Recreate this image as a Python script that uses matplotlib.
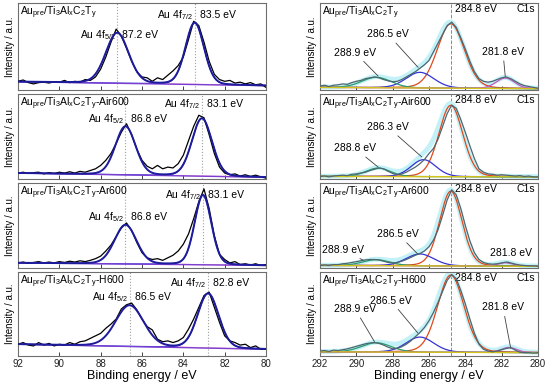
import numpy as np
import matplotlib.pyplot as plt
from matplotlib.ticker import MultipleLocator

plt.rcParams['font.family'] = ['Liberation Sans', 'DejaVu Sans']
plt.rcParams['mathtext.fontset'] = 'custom'
plt.rcParams['mathtext.rm'] = 'Liberation Sans'
plt.rcParams['mathtext.it'] = 'Liberation Sans:italic'

# ---- Au 4f spectra (92 -> 80 eV, 0.25 eV steps), panel units 0-100 ----
au_energy = np.linspace(92, 80, 49)
au_raw_ref = [10, 11.5, 8.5, 7, 8.5, 9, 8, 9.5, 9, 11, 8.5, 10, 9, 12, 11, 15,
              24, 38, 55, 70, 62, 48, 33, 21, 15, 14, 10, 14, 12, 17, 22, 28,
              38, 58, 79, 74, 55, 33, 18, 12, 10, 11, 8, 9, 7, 8.5, 6, 7, 3]
au_raw_air = [7, 8, 6.5, 7.5, 8, 6, 7.5, 6.5, 8, 7, 8.5, 7, 9, 8, 10, 12,
              16, 22, 30, 42, 55, 65, 52, 35, 22, 15, 12, 16, 12, 14, 13, 18,
              28, 45, 62, 75, 72, 52, 30, 14, 7, 5, 6, 3.5, 5, 3, 4.5, 2.5, 1]
au_raw_ar = [6, 7, 5.5, 6.5, 7.5, 6, 7, 6, 7.5, 6.5, 8, 7, 8.5, 7.5, 9, 11,
             14, 20, 27, 37, 47, 53, 44, 30, 18, 12, 10, 11, 9, 12, 15, 20,
             28, 40, 58, 78, 93, 70, 38, 16, 10, 6, 7.5, 4, 5, 3.5, 5, 3, 4]
au_raw_h = [14, 16, 13, 12, 16, 13, 15, 12, 14, 13, 16, 14, 17, 18, 21, 24,
            27, 33, 38, 44, 56, 61, 63, 55, 44, 35, 31, 20, 17, 18, 16, 18,
            22, 32, 44, 58, 72, 76, 58, 40, 24, 18, 16, 13, 14, 10, 12, 8, 8]

# fitted components: (centre eV, height, FWHM)
au_peaks_ref = [(87.2, 58, 1.30), (83.45, 71, 1.05)]
au_peaks_air = [(86.8, 57, 1.15), (83.1, 68, 1.15)]
au_peaks_ar = [(86.8, 46, 1.25), (83.05, 82, 0.95)]
au_peaks_h = [(86.6, 49, 1.60), (82.8, 65, 1.20)]
# peak positions as printed on the chart (4f5/2, 4f7/2)
au_peak_labels_ref = ['87.2 eV', '83.5 eV']
au_peak_labels_air = ['86.8 eV', '83.1 eV']
au_peak_labels_ar = ['86.8 eV', '83.1 eV']
au_peak_labels_h = ['86.5 eV', '82.8 eV']
# linear background (value at 92 eV, value at 80 eV)
au_bg_ref = (9.5, 5)
au_bg_air = (7, 2)
au_bg_ar = (6, 3)
au_bg_h = (14, 8)

# ---- C 1s spectra (292 -> 280 eV, 0.25 eV steps) ----
c_energy = np.linspace(292, 280, 49)
c_raw_ref = [4.5, 5.5, 4, 5.5, 6, 7, 6.5, 8.5, 10, 11, 13, 14, 15, 14, 12, 10.5,
             9.5, 10, 12, 15, 18, 21, 25, 29, 34, 44, 54, 64, 74, 78, 72, 60,
             47, 33, 21, 13, 10, 9, 10, 12, 14, 15, 13, 10, 7, 5, 4, 3, 2]
c_raw_air = [3, 3.5, 2.5, 3.5, 4, 4.5, 4, 5.5, 6, 7, 8, 10, 11.5, 13, 12, 9,
             6.5, 5, 6, 8, 11, 14, 18, 23, 30, 36, 47, 62, 77, 87, 83, 70,
             55, 39, 24, 12, 8, 6, 5.5, 4.5, 5, 4.5, 4, 3.5, 4, 3, 3.5, 2.5, 2.5]
c_raw_ar = [3, 3.5, 3, 4, 4, 5, 5.5, 6.5, 7.5, 8.5, 9.5, 10, 10, 9.5, 8, 6.5,
            6, 6.5, 8, 10, 12.5, 15, 17, 20, 25, 33, 45, 62, 80, 92, 86, 70,
            50, 32, 18, 10, 6.5, 5, 4.5, 5, 6, 7, 6, 4.5, 3.5, 3, 2.5, 2.5, 2]
c_raw_h = [6, 6.5, 5.5, 7, 6.5, 7.5, 8.5, 10, 11.5, 13, 14.5, 15.5, 16, 15, 13, 10.5,
           8.5, 9, 11, 14, 18, 23, 28, 34, 42, 52, 64, 77, 90, 97, 92, 78,
           62, 44, 27, 14, 8, 6, 5, 6, 7.5, 9, 10, 7, 4.5, 4, 4, 3.5, 4]

# components: main C-C, C-O (blue), O-C=O (green), carbide (pink)
c_peaks_ref = [(284.8, 74, 1.75), (286.5, 18, 1.8), (288.9, 12, 1.9), (281.8, 12, 1.2)]
c_peaks_air = [(284.8, 84, 1.55), (286.3, 20, 1.6), (288.8, 10, 1.6), None]
c_peaks_ar = [(284.8, 88, 1.45), (286.5, 14, 1.8), (288.9, 7, 1.8), (281.8, 4, 1.0)]
c_peaks_h = [(284.8, 92, 1.70), (286.5, 18, 1.8), (288.9, 11, 1.9), (281.6, 6, 1.0)]
c_bg_ref = (3, 1.5)
c_bg_air = (3, 2.5)
c_bg_ar = (3, 2)
c_bg_h = (5, 4)

sample_suffix = ['', '-Air600', '-Ar600', '-H600']

# label placement: (text, target eV, target val, text eV, text val)
c_labels_ref = [('288.9 eV', 288.8, 16, 290.07, 43), ('286.5 eV', 286.6, 26, 288.26, 64),
                ('281.8 eV', 281.8, 15, 281.93, 44)]
c_labels_air = [('288.8 eV', 288.8, 14, 290.07, 36), ('286.3 eV', 286.4, 26, 288.26, 61)]
c_labels_ar = [('288.9 eV', 289.6, 9, 290.75, 21), ('286.5 eV', 286.6, 16, 287.7, 40),
               ('281.8 eV', 281.65, 6, 281.5, 18)]
c_labels_h = [('288.9 eV', 289.0, 17, 290.07, 56), ('286.5 eV', 286.6, 27, 288.1, 66),
              ('281.8 eV', 281.5, 9, 281.93, 58)]

# y (axes fraction) of Au 4f labels: (5/2, 7/2)
au_label_y = [(0.60, 0.83), (0.665, 0.85), (0.56, 0.82), (0.67, 0.83)]


def pvoigt(x, c, h, w, eta=0.12):
    g = np.exp(-4 * np.log(2) * ((x - c) / w) ** 2)
    l = 1 / (1 + 4 * ((x - c) / w) ** 2)
    return h * ((1 - eta) * g + eta * l)


def sample_title(suffix):
    r = r'\mathregular'
    return ('Au$_%s{pre}$/Ti$_%s{3}$Al$_%s{x}$C$_%s{2}$T$_%s{y}$' % (r, r, r, r, r)) + suffix


W, H = 550, 387
fig = plt.figure(figsize=(W / 100, H / 100), dpi=100)
rows = [(3, 90), (94, 179), (183, 268), (272, 356)]


def make_ax(x0, x1, y0, y1):
    return fig.add_axes([x0 / W, 1 - y1 / H, (x1 - x0) / W, (y1 - y0) / H])


frame_col = '#6e6e6e'

au_raws = [au_raw_ref, au_raw_air, au_raw_ar, au_raw_h]
au_peaks = [au_peaks_ref, au_peaks_air, au_peaks_ar, au_peaks_h]
au_texts = [au_peak_labels_ref, au_peak_labels_air, au_peak_labels_ar, au_peak_labels_h]
au_bgs = [au_bg_ref, au_bg_air, au_bg_ar, au_bg_h]
c_raws = [c_raw_ref, c_raw_air, c_raw_ar, c_raw_h]
c_peaks = [c_peaks_ref, c_peaks_air, c_peaks_ar, c_peaks_h]
c_bgs = [c_bg_ref, c_bg_air, c_bg_ar, c_bg_h]
c_labels = [c_labels_ref, c_labels_air, c_labels_ar, c_labels_h]

fine_au = np.linspace(92, 80, 500)
fine_c = np.linspace(292, 280, 500)

for i, (y0, y1) in enumerate(rows):
    # ---------- Au 4f ----------
    ax = make_ax(18, 266, y0, y1)
    b0, b1 = au_bgs[i]
    bg = b0 + (b1 - b0) * (92 - fine_au) / 12
    p52, p72 = au_peaks[i]
    comp52 = pvoigt(fine_au, *p52)
    comp72 = pvoigt(fine_au, *p72)
    for c in (p52[0], p72[0]):
        ax.axvline(c, color='#a0a0a0', ls=':', lw=0.8, zorder=1)
    ax.plot(fine_au, bg + comp52, color='#f6a6d6', lw=0.9, zorder=1.5)
    ax.plot(fine_au, bg + comp72, color='#3a3ad8', lw=0.9, zorder=1.6)
    ax.plot(fine_au, bg, color='#7a3fd0', lw=1.0, zorder=2)
    ax.plot(au_energy, au_raws[i], color='black', lw=0.9, zorder=3)
    ax.plot(fine_au, bg + comp52 + comp72, color='#1c1c9c', lw=1.4, zorder=4)
    ax.set_xlim(92, 80)
    ax.set_ylim(0, 100)
    ax.set_yticks([])
    ax.xaxis.set_major_locator(MultipleLocator(2))
    ax.tick_params(axis='x', direction='in', length=3, width=0.6, labelsize=7,
                   colors='#222222', labelbottom=(i == 3), pad=2)
    for s in ax.spines.values():
        s.set_color(frame_col)
        s.set_linewidth(0.8)
    ax.set_ylabel('Intensity / a.u.', fontsize=7, labelpad=2)
    ax.text(0.008, 0.985, sample_title(sample_suffix[i]), transform=ax.transAxes,
            ha='left', va='top', fontsize=7.5)
    yl52, yl72 = au_label_y[i]
    for p, yy, name, lab in ((p52, yl52, '5/2', au_texts[i][0]), (p72, yl72, '7/2', au_texts[i][1])):
        c = p[0]
        ax.text(c + 0.08, yy, r'Au 4f$_{\mathregular{%s}}$' % name, transform=ax.get_xaxis_transform(),
                ha='right', va='baseline', fontsize=7.5)
        ax.text(c - 0.25, yy, lab, transform=ax.get_xaxis_transform(),
                ha='left', va='baseline', fontsize=7.5)
    if i == 3:
        ax.set_xlabel('Binding energy / eV', fontsize=9, labelpad=1)

    # ---------- C 1s ----------
    ax = make_ax(320, 538, y0, y1)
    b0, b1 = c_bgs[i]
    bg = b0 + (b1 - b0) * (292 - fine_c) / 12
    cols = ['#e0481c', '#3434d4', '#2a9c6c', '#c45ac4']
    total = bg.copy()
    comps = []
    for p, col in zip(c_peaks[i], cols):
        if p is None:
            continue
        comp = pvoigt(fine_c, *p)
        total += comp
        comps.append((comp, col))
    ax.axvline(284.8, color='#8a8a8a', ls='--', lw=0.7, zorder=1)
    ax.plot(fine_c, total, color='#c2f2f7', lw=3.5, zorder=2)
    for comp, col in comps:
        ax.plot(fine_c, bg + comp, color=col, lw=0.9, zorder=3)
    ax.plot(fine_c, bg, color='#d2c21a', lw=1.0, zorder=3.5)
    ax.plot(c_energy, c_raws[i], color='#4e6670', lw=0.9, zorder=4)
    ax.set_xlim(292, 280)
    ax.set_ylim(0, 100)
    ax.set_yticks([])
    ax.xaxis.set_major_locator(MultipleLocator(2))
    ax.tick_params(axis='x', direction='in', length=3, width=0.6, labelsize=7,
                   colors='#222222', labelbottom=(i == 3), pad=2)
    for s in ax.spines.values():
        s.set_color(frame_col)
        s.set_linewidth(0.8)
    ax.set_ylabel('Intensity / a.u.', fontsize=7, labelpad=2)
    ax.text(0.008, 0.985, sample_title(sample_suffix[i]), transform=ax.transAxes,
            ha='left', va='top', fontsize=7.5)
    ax.text(0.985, 0.985, 'C1s', transform=ax.transAxes, ha='right', va='top', fontsize=7.5)
    ax.text(284.57, 0.985, '284.8 eV', transform=ax.get_xaxis_transform(),
            ha='left', va='top', fontsize=7.5)
    for txt, tx, ty, lx, ly in c_labels[i]:
        ax.annotate(txt, xy=(tx, ty), xytext=(lx, ly), fontsize=7.5, ha='center', va='center',
                    arrowprops=dict(arrowstyle='-', color='#404040', lw=0.6,
                                    shrinkA=1, shrinkB=0))
    if i == 3:
        ax.set_xlabel('Binding energy / eV', fontsize=9, labelpad=1)

fig.savefig('out.png', dpi=100)
